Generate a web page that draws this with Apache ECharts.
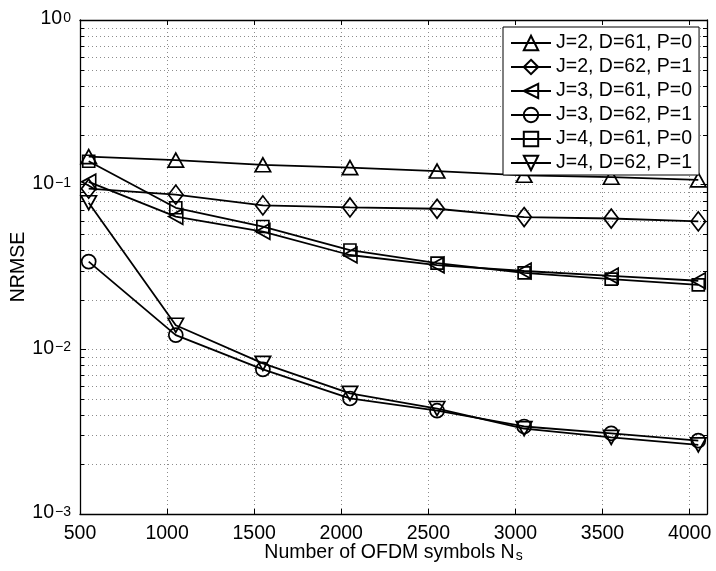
<!DOCTYPE html>
<html><head><meta charset="utf-8">
<script src="https://cdn.jsdelivr.net/npm/echarts@6/dist/echarts.min.js"></script>
<style>html,body{margin:0;padding:0;background:#fff}#c{width:716px;height:571px}</style>
</head><body><div id="c"></div>
<script>
// ---- data ----
const xValues = [550, 1050, 1550, 2050, 2550, 3050, 3550, 4050];
const seriesNames = ['J=2, D=61, P=0', 'J=2, D=62, P=1', 'J=3, D=61, P=0', 'J=3, D=62, P=1', 'J=4, D=61, P=0', 'J=4, D=62, P=1'];
const j2d61p0 = [0.148, 0.141, 0.132, 0.127, 0.121, 0.114, 0.111, 0.107];
const j2d62p1 = [0.0945, 0.087, 0.0748, 0.0727, 0.0714, 0.0636, 0.0623, 0.0598];
const j3d61p0 = [0.104, 0.064, 0.0519, 0.0374, 0.0325, 0.0299, 0.0279, 0.0261];
const j3d62p1 = [0.0341, 0.0122, 0.00755, 0.00503, 0.00424, 0.0034, 0.00309, 0.00279];
const j4d61p0 = [0.1387, 0.0724, 0.0557, 0.0401, 0.0334, 0.0291, 0.0267, 0.0246];
const j4d62p1 = [0.0777, 0.014, 0.00822, 0.0054, 0.00437, 0.0033, 0.00292, 0.00263];
const xTicks = [500, 1000, 1500, 2000, 2500, 3000, 3500, 4000];
const yMajorTicks = [0.001, 0.01, 0.1, 1];
const yMinorTicks = [0.002,0.003,0.004,0.005,0.006,0.007,0.008,0.009,
                     0.02,0.03,0.04,0.05,0.06,0.07,0.08,0.09,
                     0.2,0.3,0.4,0.5,0.6,0.7,0.8,0.9];
const X_MIN = 500, X_MAX = 4100;

// ---- styles ----
const FONT = '"Liberation Sans", Arial, Helvetica, sans-serif';
const FS = 19.5;
const markerDefs = [
  {symbol: 'triangle', size: [15.5, 14], rotate: 0},
  {symbol: 'diamond', size: [14.5, 19], rotate: 0},
  {symbol: 'triangle', size: [15.5, 14], rotate: 90},
  {symbol: 'circle', size: 14, rotate: 0},
  {symbol: 'rect', size: 12, rotate: 0},
  {symbol: 'triangle', size: [15.5, 14], rotate: 180}
];
const allValues = [j2d61p0, j2d62p1, j3d61p0, j3d62p1, j4d61p0, j4d62p1];

const lineSeries = allValues.map((vals, i) => ({
  name: seriesNames[i],
  type: 'line',
  xAxisIndex: 0, yAxisIndex: 0,
  data: xValues.map((x, k) => [x, vals[k]]),
  symbol: markerDefs[i].symbol,
  symbolSize: markerDefs[i].size,
  symbolRotate: markerDefs[i].rotate,
  showAllSymbol: true,
  lineStyle: {color: '#000', width: 1.8},
  itemStyle: {color: 'rgba(0,0,0,0)', borderColor: '#000', borderWidth: 1.7},
  emphasis: {disabled: true},
  z: 3
}));

const minorSeries = {
  type: 'custom',
  xAxisIndex: 0, yAxisIndex: 0,
  silent: true,
  z: 1,
  data: yMinorTicks.map(v => [X_MIN, v]),
  renderItem: function (params, api) {
    const v = api.value(1);
    const p0 = api.coord([X_MIN, v]);
    const p1 = api.coord([X_MAX, v]);
    const y = Math.round(p0[1]) + 0.5;
    return {
      type: 'group',
      children: [
        {type: 'line', shape: {x1: p0[0], y1: y, x2: p1[0], y2: y}, style: {stroke: '#8c8c8c', lineWidth: 1, lineDash: [1, 3]}},
        {type: 'line', shape: {x1: p0[0], y1: y, x2: p0[0] + 4, y2: y}, style: {stroke: '#000', lineWidth: 1}},
        {type: 'line', shape: {x1: p1[0] - 4, y1: y, x2: p1[0], y2: y}, style: {stroke: '#000', lineWidth: 1}}
      ]
    };
  }
};

function supLabel(v) {
  const e = Math.round(Math.log10(v));
  const s = e < 0 ? '\u2212' + (-e) : String(e);
  return '{b|10}{s|' + s + '}';
}
const richY = {
  b: {fontSize: FS, fontFamily: FONT, color: '#000', lineHeight: 18, verticalAlign: 'bottom'},
  s: {fontSize: 14, fontFamily: FONT, color: '#000', lineHeight: 13, verticalAlign: 'top', padding: [0, 0, 13, 1]}
};

const axisLineStyle = {color: '#000', width: 1.3};
const gridLine = {show: true, lineStyle: {color: '#8c8c8c', width: 1, type: [1, 3]}};

const option = {
  animation: false,
  backgroundColor: '#fff',
  grid: {left: 80, right: 9, top: 20, bottom: 57, outerBoundsMode: 'none', containLabel: false},
  legend: {
    orient: 'vertical',
    left: 503, top: 27,
    padding: [6, 7, 2, 7],
    itemWidth: 40, itemHeight: 18, itemGap: 4,
    backgroundColor: '#fff',
    borderColor: '#000', borderWidth: 1,
    borderRadius: 0,
    selectedMode: false,
    data: seriesNames,
    textStyle: {fontSize: FS, fontFamily: FONT, color: '#000', lineHeight: 20},
    z: 10
  },
  xAxis: [{
    type: 'value', min: X_MIN, max: X_MAX, interval: 500,
    position: 'bottom',
    name: '{a|Number of OFDM symbols N}{s|s}',
    nameLocation: 'middle', nameGap: 29, nameMoveOverlap: false,
    nameTextStyle: {
      verticalAlign: 'top',
      rich: {
        a: {fontSize: FS, fontFamily: FONT, color: '#000', lineHeight: 20, verticalAlign: 'top'},
        s: {fontSize: 14, fontFamily: FONT, color: '#000', lineHeight: 14, verticalAlign: 'bottom', padding: [23, 0, 0, 1]}
      }
    },
    axisLine: {show: true, onZero: false, lineStyle: axisLineStyle},
    axisTick: {show: true, inside: true, length: 5, lineStyle: {color: '#000'}},
    axisLabel: {fontSize: FS, fontFamily: FONT, color: '#000', margin: 10, showMaxLabel: false,
      formatter: v => (xTicks.indexOf(v) >= 0 ? String(v) : '')},
    splitLine: gridLine
  }, {
    type: 'value', min: X_MIN, max: X_MAX, interval: 500,
    position: 'top',
    axisLine: {show: true, onZero: false, lineStyle: axisLineStyle},
    axisTick: {show: true, inside: true, length: 5, lineStyle: {color: '#000'}},
    axisLabel: {show: false},
    splitLine: {show: false}
  }],
  yAxis: [{
    type: 'log', logBase: 10, min: 0.001, max: 1,
    position: 'left',
    name: 'NRMSE', nameLocation: 'middle', nameGap: 51, nameMoveOverlap: false,
    nameTextStyle: {fontSize: FS, fontFamily: FONT, color: '#000'},
    axisLine: {show: true, onZero: false, lineStyle: axisLineStyle},
    axisTick: {show: true, inside: true, length: 6, lineStyle: {color: '#000'}},
    axisLabel: {margin: 9, formatter: v => (yMajorTicks.some(t => Math.abs(t - v) / t < 1e-6) ? supLabel(v) : ''), rich: richY},
    splitLine: gridLine
  }, {
    type: 'log', logBase: 10, min: 0.001, max: 1,
    position: 'right',
    axisLine: {show: true, onZero: false, lineStyle: axisLineStyle},
    axisTick: {show: true, inside: true, length: 6, lineStyle: {color: '#000'}},
    axisLabel: {show: false},
    splitLine: {show: false}
  }],
  series: [minorSeries].concat(lineSeries)
};

const chart = echarts.init(document.getElementById('c'), null, {renderer: 'canvas'});
chart.setOption(option);
</script>
</body></html>
